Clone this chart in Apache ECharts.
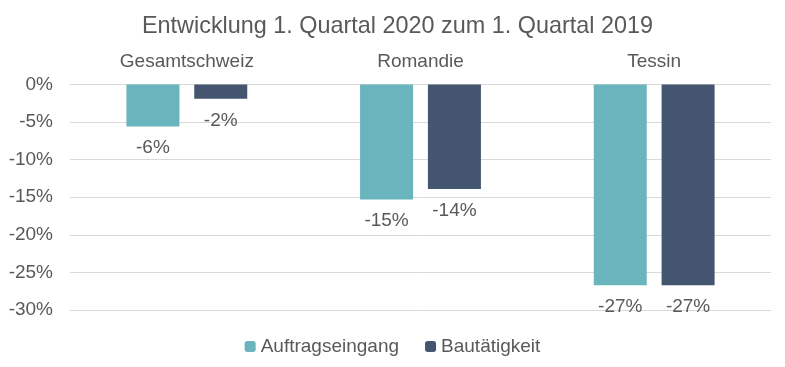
<!DOCTYPE html>
<html>
<head>
<meta charset="utf-8">
<script src="https://cdn.jsdelivr.net/npm/echarts@6/dist/echarts.min.js"></script>
<style>html,body{margin:0;padding:0;background:#fff}#c{width:785px;height:367px}</style>
</head>
<body>
<div id="c"></div>
<script>
const categories = ['Gesamtschweiz', 'Romandie', 'Tessin'];
const auftragseingang = [-5.6, -15.3, -26.7];
const bautaetigkeit = [-1.9, -13.9, -26.7];
const seriesNames = ['Auftragseingang', 'Bautätigkeit'];
const yTicks = { min: -30, max: 0, interval: 5 };

const FONT = '"Liberation Sans", Arial, sans-serif';
const TXT = '#595959';
const chart = echarts.init(document.getElementById('c'), null, { renderer: 'canvas' });
const labelCfg = {
  show: true, position: 'bottom', distance: 12,
  color: TXT, fontSize: 19, fontFamily: FONT,
  formatter: p => Math.round(p.value) + '%'
};
chart.setOption({
  animation: false,
  title: {
    text: 'Entwicklung 1. Quartal 2020 zum 1. Quartal 2019',
    left: 137, top: 10,
    textStyle: { color: TXT, fontSize: 23.4, fontWeight: 'normal', fontFamily: FONT }
  },
  legend: {
    data: seriesNames, top: 332, left: 'center',
    itemWidth: 11, itemHeight: 11, itemGap: 26,
    textStyle: { color: TXT, fontSize: 19, fontFamily: FONT }
  },
  grid: { left: 70, right: 14, top: 84.5, bottom: 57, containLabel: false },
  xAxis: {
    type: 'category', data: categories, position: 'top',
    axisLine: { show: false }, axisTick: { show: false },
    axisLabel: { color: TXT, fontSize: 19, fontFamily: FONT, margin: 13 }
  },
  yAxis: {
    type: 'value', min: yTicks.min, max: yTicks.max, interval: yTicks.interval,
    axisLine: { show: false }, axisTick: { show: false },
    axisLabel: { color: TXT, fontSize: 19, fontFamily: FONT, margin: 17, formatter: '{value}%' },
    splitLine: { lineStyle: { color: '#D9D9D9', width: 1 } }
  },
  series: [
    { name: seriesNames[0], type: 'bar', data: auftragseingang, barWidth: 53, barGap: '28%',
      itemStyle: { color: '#6AB4BD' }, label: labelCfg },
    { name: seriesNames[1], type: 'bar', data: bautaetigkeit, barWidth: 53, barGap: '28%',
      itemStyle: { color: '#43556F' }, label: labelCfg }
  ]
});
</script>
</body>
</html>
